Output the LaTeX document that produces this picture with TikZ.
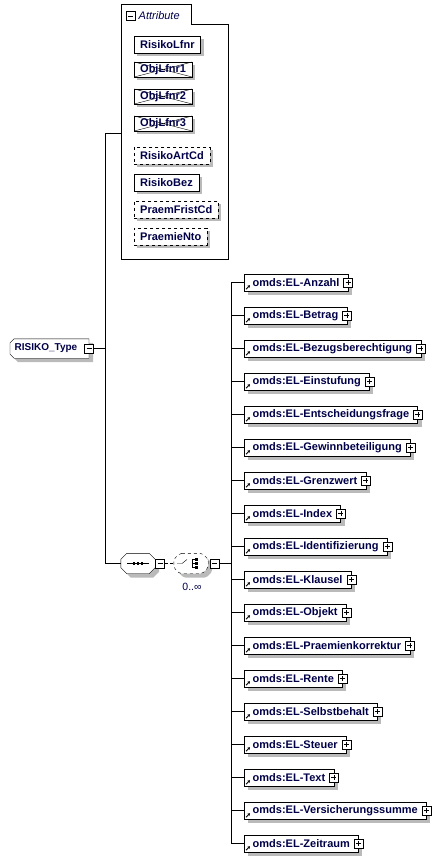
\documentclass[tikz,border=0pt]{standalone}
\usepackage{fontspec}
\setmainfont{Liberation Sans}
\usetikzlibrary{arrows.meta,positioning,shadows,backgrounds}

\definecolor{xsnavy}{RGB}{0,0,72}
\definecolor{xsshade}{RGB}{186,186,186}

\tikzset{
  shade box/.style={drop shadow={shadow xshift=4pt, shadow yshift=-4pt, fill=xsshade, opacity=1}},
  small shade/.style={drop shadow={shadow xshift=3pt, shadow yshift=-3pt, fill=xsshade, opacity=1}},
  elem/.style={draw, fill=white, anchor=west, font=\bfseries\fontsize{11}{13}\selectfont,
    text=xsnavy, inner xsep=8.5pt, inner ysep=0pt, minimum height=17pt, shade box},
  attrib/.style={draw, fill=white, anchor=west, font=\bfseries\fontsize{11}{13}\selectfont,
    text=xsnavy, inner xsep=6pt, inner ysep=0pt, minimum height=17pt, small shade},
  optattrib/.style={attrib, dashed},
  banned/.style={attrib, minimum height=15pt,
    path picture={\draw (path picture bounding box.south west) -- (path picture bounding box.north east)
      (path picture bounding box.north west) -- (path picture bounding box.south east);}},
  pmbox/.style={draw, fill=white, minimum size=9pt, inner sep=0pt},
  plusbox/.style={pmbox, path picture={\draw ([xshift=2pt]path picture bounding box.west) -- ([xshift=-2pt]path picture bounding box.east)
      ([yshift=-2pt]path picture bounding box.north) -- ([yshift=2pt]path picture bounding box.south);}},
  minusbox/.style={pmbox, path picture={\draw ([xshift=2pt]path picture bounding box.west) -- ([xshift=-2pt]path picture bounding box.east);}},
  compositor/.style={minimum width=34pt, minimum height=20pt, inner sep=0pt},
  ctype/.style={anchor=west, inner xsep=4.5pt, inner ysep=0pt, minimum height=19pt,
    font=\bfseries\fontsize{10}{12}\selectfont, text=xsnavy},
  octa/.style={draw, fill=white, shade box},
}
% octagon outline round a named node
\newcommand{\octagon}[3][]{%
  \draw[octa,#1] ([xshift=#3]#2.north west) -- ([xshift=-#3]#2.north east) -- ([yshift=-#3]#2.north east)
    -- ([yshift=#3]#2.south east) -- ([xshift=-#3]#2.south east) -- ([xshift=#3]#2.south west)
    -- ([yshift=#3]#2.south west) -- ([yshift=-#3]#2.north west) -- cycle;}

\begin{document}
\begin{tikzpicture}[x=1pt, y=-1pt]
    \useasboundingbox (0,0) rectangle (437,864);

    % attribute group
    \draw (121,259) -- (121,4) -- (191,4) -- (191,24) -- (228,24) -- (228,259) -- cycle;
    \node[minusbox] (attrm) at (130.5,16) {};
    \node[anchor=west, font=\itshape\fontsize{11}{13}\selectfont, text=xsnavy, inner sep=0pt] (attrlbl) at (138.5,16) {Attribute};
    \coordinate (attr) at (121,133);

    \node[attrib] (lfnr) at (134,44.5) {RisikoLfnr};
    \node[banned] (obj1) at (134,69.5) {ObjLfnr1};
    \node[banned] (obj2) at (134,96.5) {ObjLfnr2};
    \node[banned] (obj3) at (134,123.5) {ObjLfnr3};
    \node[optattrib] (artcd) at (134,155.5) {RisikoArtCd};
    \node[attrib] (bez) at (134,182.5) {RisikoBez};
    \node[optattrib] (frist) at (134,209.5) {PraemFristCd};
    \node[optattrib] (nto) at (134,236.5) {PraemieNto};

    % complex type
    \node[ctype] (rtype) at (10,348.5) {RISIKO\_Type\rule{7pt}{0pt}};
    \begin{scope}[on background layer]
        \draw[octa] ([yshift=-4pt]rtype.north west) -- ([xshift=4pt]rtype.north west) -- (rtype.north east)
            -- (rtype.south east) -- ([xshift=4pt]rtype.south west) -- ([yshift=4pt]rtype.south west) -- cycle;
    \end{scope}
    \node[minusbox] (rtypem) at (rtype.east) {};
    \coordinate (trunk) at (105.5,0);

    % sequence and choice
    \node[compositor] (seq) at (138,563.5) {};
    \octagon{seq}{6pt}
    \draw ([xshift=-11pt]seq.center) -- ([xshift=11pt]seq.center);
    \foreach \d in {-4,0,4}
        \fill ([xshift=\d pt]seq.center) +(-1.4pt,-1.4pt) rectangle +(1.4pt,1.4pt);
    \node[minusbox] (seqm) at (160,563.5) {};

    \node[compositor] (cho) at (191,563.5) {};
    \octagon[dashed, rounded corners=2pt]{cho}{6pt}
    \draw ([xshift=-14pt]cho.center) -- ++(5pt,0) -- ++(5pt,4pt);
    \draw ([shift={(1pt,4.5pt)}]cho.center) -- ++(0,-9pt);
    \foreach \d in {-4,0,4} {
        \draw ([shift={(1pt,\d pt)}]cho.center) -- ++(4pt,0);
        \fill ([shift={(5.5pt,\d pt)}]cho.center) +(-1.3pt,-1.3pt) rectangle +(1.3pt,1.3pt);
    }
    \node[minusbox] (chom) at (214.5,563.5) {};
    \node[font=\fontsize{10.5}{12}\selectfont, text=xsnavy, inner sep=0pt] (occ) at (192,587) {0..∞};
    \coordinate (bus) at (231,0);

    % elements
    \foreach \name [count=\i] in {Anzahl, Betrag, Bezugsberechtigung, Einstufung, Entscheidungsfrage,
        Gewinnbeteiligung, Grenzwert, Index, Identifizierung, Klausel, Objekt, Praemienkorrektur,
        Rente, Selbstbehalt, Steuer, Text, Versicherungssumme, Zeitraum} {
        \node[elem] (el\i) at (244,{282.5+33*(\i-1)}) {omds:EL-\name};
        \node[plusbox] (elp\i) at (el\i.east) {};
        \draw[-{Stealth[length=2.5pt,width=3pt]}, line width=0.9pt] ([shift={(2pt,2pt)}]el\i.south west) -- ++(4pt,4pt);
        \draw (el\i.west) -- (el\i.west -| bus);
    }

    % connectors
    \draw (rtypem.east) -- (rtypem.east -| trunk);
    \draw (attr) -- (attr -| trunk) -- (seq.west -| trunk) -- (seq.west);
    \draw[densely dashed] (seqm.east) -- (cho.west);
    \draw (chom.east) -- (chom.east -| bus);
    \draw (el1.west -| bus) -- (el18.west -| bus);
\end{tikzpicture}
\end{document}
